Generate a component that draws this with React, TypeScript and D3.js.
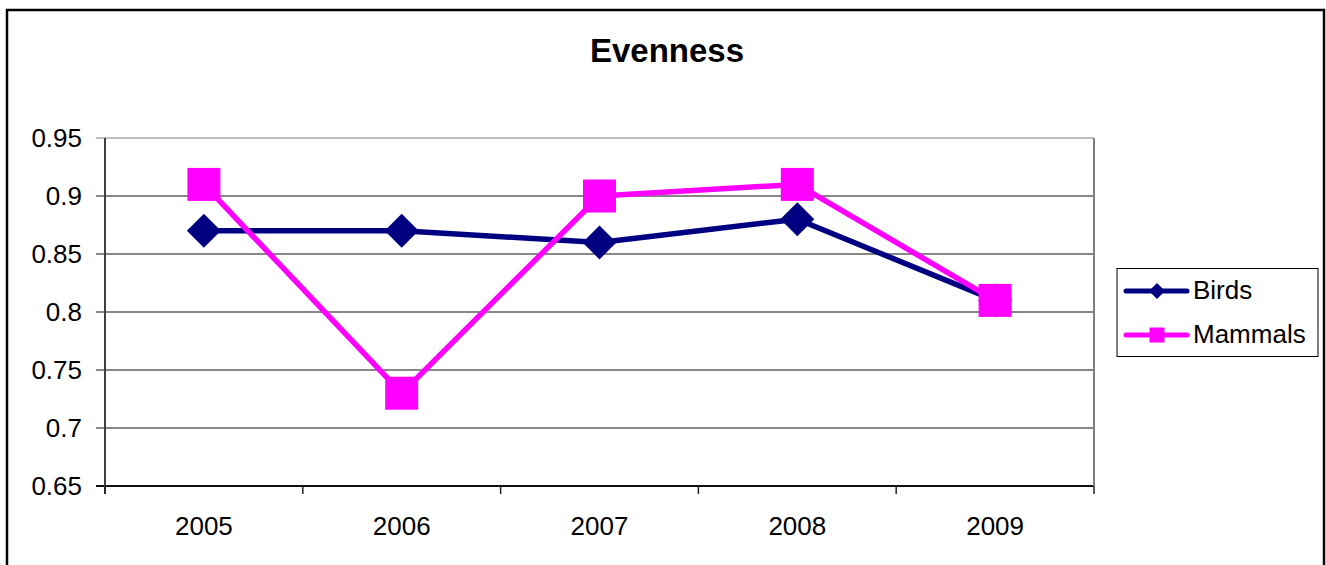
import React from "react";
import * as d3 from "d3";

// Evenness index per survey year
const years = ["2005", "2006", "2007", "2008", "2009"];
const birds = [0.87, 0.87, 0.86, 0.88, 0.81];
const mammals = [0.91, 0.73, 0.9, 0.91, 0.81];
const yTicks = [0.65, 0.7, 0.75, 0.8, 0.85, 0.9, 0.95];
const seriesNames = ["Birds", "Mammals"];

const W = 1326;
const H = 565;
const plot = { left: 105, top: 138, right: 1094, bottom: 486 };
const FONT = "Arial, 'Liberation Sans', sans-serif";
const BIRD_COLOR = "#000080";
const MAMMAL_COLOR = "#FF00FF";

export default function App() {
  const x = d3
    .scaleBand<string>()
    .domain(years)
    .range([plot.left, plot.right])
    .paddingInner(0)
    .paddingOuter(0);
  const y = d3.scaleLinear().domain([0.65, 0.95]).range([plot.bottom, plot.top]);
  const cx = (yr: string) => (x(yr) as number) + x.bandwidth() / 2;

  const line = d3
    .line<number>()
    .x((_, i) => cx(years[i]))
    .y((d) => y(d));

  const diamond = (px: number, py: number, r: number) =>
    `M${px},${py - r}L${px + r},${py}L${px},${py + r}L${px - r},${py}Z`;

  const boundaries = [...years.map((yr) => x(yr) as number), plot.right];

  return (
    <svg
      width={W}
      height={H}
      style={{ position: "absolute", left: 0, top: 0, background: "#fff" }}
    >
      {/* chart area frame */}
      <rect x={7} y={10} width={1317} height={H + 10} fill="#fff" stroke="#000" strokeWidth={2.5} />

      <text
        x={667}
        y={62}
        textAnchor="middle"
        fontFamily={FONT}
        fontWeight="bold"
        fontSize={33}
        fill="#000"
      >
        Evenness
      </text>

      {/* horizontal gridlines */}
      {yTicks.map((t) => (
        <line
          key={`g${t}`}
          x1={plot.left - 9}
          x2={plot.right}
          y1={y(t)}
          y2={y(t)}
          stroke={t === 0.95 ? "#808080" : "#111"}
          strokeWidth={t === 0.65 ? 2 : 1.2}
        />
      ))}
      {/* plot border right side */}
      <line x1={plot.right} x2={plot.right} y1={plot.top} y2={plot.bottom} stroke="#808080" strokeWidth={2} />
      {/* value axis */}
      <line x1={plot.left} x2={plot.left} y1={plot.top} y2={plot.bottom + 8} stroke="#404040" strokeWidth={2} />
      {/* category tick marks */}
      {boundaries.map((bx, i) => (
        <line key={`t${i}`} x1={bx} x2={bx} y1={plot.bottom} y2={plot.bottom + 8} stroke="#222" strokeWidth={1.5} />
      ))}

      {/* y tick labels */}
      {yTicks.map((t) => (
        <text
          key={`l${t}`}
          x={82}
          y={y(t)}
          dy="0.36em"
          textAnchor="end"
          fontFamily={FONT}
          fontSize={26}
          fill="#000"
        >
          {String(t)}
        </text>
      ))}
      {/* x tick labels */}
      {years.map((yr) => (
        <text
          key={`x${yr}`}
          x={cx(yr)}
          y={535}
          textAnchor="middle"
          fontFamily={FONT}
          fontSize={26}
          fill="#000"
        >
          {yr}
        </text>
      ))}

      {/* Birds series */}
      <path d={line(birds) ?? ""} fill="none" stroke={BIRD_COLOR} strokeWidth={5.5} strokeLinejoin="round" />
      {birds.map((v, i) => (
        <path key={`b${i}`} d={diamond(cx(years[i]), y(v), 17)} fill={BIRD_COLOR} />
      ))}

      {/* Mammals series */}
      <path d={line(mammals) ?? ""} fill="none" stroke={MAMMAL_COLOR} strokeWidth={5.5} strokeLinejoin="round" />
      {mammals.map((v, i) => (
        <rect
          key={`m${i}`}
          x={cx(years[i]) - 16.5}
          y={y(v) - 16.5}
          width={33}
          height={33}
          fill={MAMMAL_COLOR}
        />
      ))}

      {/* legend */}
      <rect x={1117} y={268.5} width={201} height={88} fill="#fff" stroke="#000" strokeWidth={1} />
      {seriesNames.map((name, i) => {
        const ly = 291 + i * 44;
        const color = i === 0 ? BIRD_COLOR : MAMMAL_COLOR;
        return (
          <g key={name}>
            <line x1={1126} x2={1187} y1={ly} y2={ly} stroke={color} strokeWidth={5} strokeLinecap="round" />
            {i === 0 ? (
              <path d={diamond(1157, ly, 8)} fill={color} />
            ) : (
              <rect x={1157 - 7.5} y={ly - 7.5} width={15} height={15} fill={color} />
            )}
            <text x={1193} y={ly + 8} fontFamily={FONT} fontSize={26} fill="#000">
              {name}
            </text>
          </g>
        );
      })}
    </svg>
  );
}
